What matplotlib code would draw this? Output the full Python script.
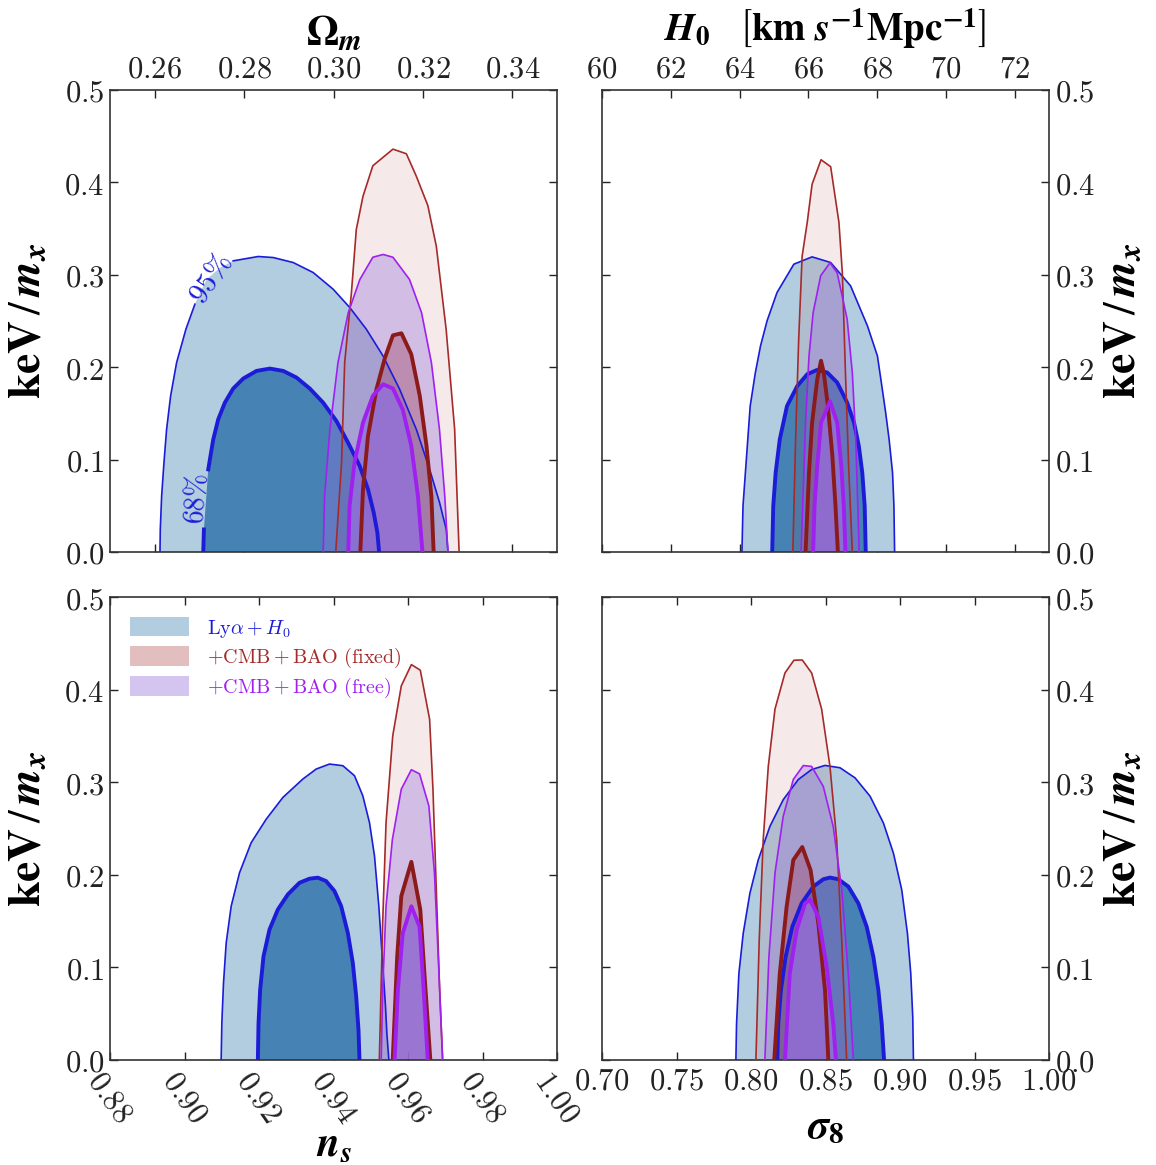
import numpy as np
import matplotlib
matplotlib.use("Agg")
import matplotlib.pyplot as plt
from matplotlib.patches import Patch

plt.rcParams['mathtext.fontset'] = 'cm'
plt.rcParams['font.family'] = ['DejaVu Serif']

# ---- contour outlines: x, y (keV/m_x) ----
# top left: Omega_m
om_lya95_x = [0.26118, 0.26125, 0.26155, 0.26207, 0.26266, 0.26356, 0.26490, 0.26698, 0.26899, 0.2716, 0.2746,
              0.27756, 0.28315, 0.28650, 0.29097, 0.29544, 0.29993, 0.30363, 0.30735, 0.31108, 0.31480, 0.31853,
              0.32151, 0.32374, 0.32523, 0.32561]
om_lya95_y = [0.0, 0.0244, 0.0605, 0.0966, 0.1327, 0.1689, 0.2050, 0.2411, 0.2682, 0.2950, 0.3075,
              0.3151, 0.3198, 0.3187, 0.3133, 0.3025, 0.2844, 0.2646, 0.2411, 0.2122, 0.1761, 0.1327,
              0.0894, 0.0533, 0.0244, 0.0]
om_lya68_x = [0.27086, 0.27101, 0.27198, 0.27235, 0.27310, 0.27421, 0.27570, 0.27756, 0.27980, 0.28278, 0.28576,
              0.28874, 0.29172, 0.29470, 0.29767, 0.30065, 0.30326, 0.30587, 0.30773, 0.30900, 0.30982, 0.31020]
om_lya68_y = [0.0, 0.0244, 0.0894, 0.1003, 0.1219, 0.1436, 0.1617, 0.1769, 0.1877, 0.1960, 0.1985,
              0.1960, 0.1888, 0.1769, 0.1617, 0.1418, 0.1183, 0.0930, 0.0677, 0.0425, 0.0208, 0.0]
om_fix95_x = [0.3005, 0.3018, 0.3025, 0.3040, 0.3051, 0.3066, 0.3088, 0.3133, 0.3163, 0.3185, 0.3211, 0.3230, 0.3252, 0.3271, 0.3281]
om_fix95_y = [0.0, 0.097, 0.205, 0.280, 0.349, 0.385, 0.418, 0.436, 0.431, 0.407, 0.375, 0.331, 0.241, 0.133, 0.0]
om_fix68_x = [0.3060, 0.3066, 0.3077, 0.3096, 0.3115, 0.3133, 0.3152, 0.3174, 0.3193, 0.3208, 0.3219, 0.3224]
om_fix68_y = [0.0, 0.068, 0.125, 0.176, 0.210, 0.2345, 0.2367, 0.214, 0.169, 0.115, 0.060, 0.0]
om_free95_x = [0.2977, 0.2980, 0.2992, 0.3010, 0.3033, 0.3059, 0.3088, 0.3111, 0.3133, 0.3170, 0.3197, 0.3219, 0.3237, 0.3249, 0.3256]
om_free95_y = [0.0, 0.060, 0.133, 0.205, 0.259, 0.295, 0.319, 0.322, 0.319, 0.295, 0.259, 0.205, 0.133, 0.060, 0.0]
om_free68_x = [0.3033, 0.3036, 0.3047, 0.3066, 0.3088, 0.3111, 0.3133, 0.3155, 0.3174, 0.3189, 0.3199]
om_free68_y = [0.0, 0.050, 0.097, 0.140, 0.169, 0.1815, 0.177, 0.154, 0.115, 0.060, 0.0]

# top right: H0
h0_lya95_x = [64.07, 64.10, 64.17, 64.31, 64.46, 64.61, 64.80, 65.09, 65.58, 66.11, 66.65, 67.23, 67.72, 68.01,
              68.11, 68.25, 68.35, 68.45, 68.49, 68.51]
h0_lya95_y = [0.0, 0.0496, 0.0858, 0.1580, 0.1941, 0.2230, 0.2501, 0.2808, 0.3115, 0.3194, 0.3133, 0.2880, 0.2447, 0.2122,
              0.1869, 0.1508, 0.1219, 0.0858, 0.0496, 0.0]
h0_lya68_x = [64.95, 64.98, 65.05, 65.17, 65.38, 65.68, 65.97, 66.26, 66.55, 66.84, 67.13, 67.33, 67.47, 67.57, 67.64, 67.67]
h0_lya68_y = [0.0, 0.0496, 0.0858, 0.1219, 0.1580, 0.1797, 0.1924, 0.1971, 0.1942, 0.1834, 0.1617, 0.1400, 0.1147, 0.0858, 0.0496, 0.0]
h0_fix95_x = [65.55, 65.63, 65.72, 65.82, 65.97, 66.11, 66.37, 66.65, 66.89, 66.99, 67.08, 67.18, 67.28]
h0_fix95_y = [0.0, 0.122, 0.230, 0.320, 0.357, 0.398, 0.4245, 0.417, 0.357, 0.302, 0.194, 0.086, 0.0]
h0_fix68_x = [65.92, 66.02, 66.11, 66.26, 66.37, 66.45, 66.57, 66.70, 66.79, 66.86]
h0_fix68_y = [0.0, 0.086, 0.140, 0.187, 0.207, 0.194, 0.158, 0.104, 0.050, 0.0]
h0_free95_x = [65.79, 65.92, 66.02, 66.14, 66.36, 66.63, 66.84, 67.13, 67.28, 67.38, 67.48]
h0_free95_y = [0.0, 0.140, 0.212, 0.259, 0.299, 0.313, 0.302, 0.252, 0.194, 0.122, 0.0]
h0_free68_x = [66.14, 66.18, 66.26, 66.37, 66.63, 66.84, 66.96, 67.03, 67.08]
h0_free68_y = [0.0, 0.050, 0.093, 0.140, 0.163, 0.140, 0.093, 0.050, 0.0]

# bottom left: n_s
ns_lya95_x = [0.90984, 0.91002, 0.91047, 0.91119, 0.91253, 0.91477, 0.91790, 0.92192, 0.92640, 0.93177, 0.93535,
              0.93893, 0.94251, 0.94564, 0.94787, 0.94966, 0.95101, 0.95217, 0.95307, 0.95396, 0.95432, 0.95486]
ns_lya95_y = [0.0, 0.0397, 0.0831, 0.1264, 0.1661, 0.2022, 0.2347, 0.2600, 0.2835, 0.3034, 0.3142,
              0.3196, 0.3178, 0.3070, 0.2853, 0.2564, 0.2203, 0.1661, 0.1120, 0.0578, 0.0289, 0.0]
ns_lya68_x = [0.91969, 0.91987, 0.92031, 0.92121, 0.92282, 0.92506, 0.92774, 0.93087, 0.93356, 0.93579,
              0.93803, 0.94027, 0.94206, 0.94385, 0.94519, 0.94609, 0.94671, 0.94698]
ns_lya68_y = [0.0, 0.0397, 0.0759, 0.1120, 0.1409, 0.1625, 0.1788, 0.1914, 0.1958, 0.1969,
              0.1932, 0.1824, 0.1661, 0.1372, 0.1047, 0.0686, 0.0325, 0.0]
ns_fix95_x = [0.9523, 0.9532, 0.9541, 0.9559, 0.9582, 0.9609, 0.9633, 0.9658, 0.9667, 0.9676, 0.9685, 0.9693]
ns_fix95_y = [0.0, 0.148, 0.256, 0.350, 0.404, 0.427, 0.421, 0.368, 0.2925, 0.184, 0.076, 0.0]
ns_fix68_x = [0.9559, 0.9571, 0.9582, 0.9609, 0.9633, 0.9644, 0.9660]
ns_fix68_y = [0.0, 0.112, 0.177, 0.214, 0.1625, 0.094, 0.0]
ns_free95_x = [0.9528, 0.9532, 0.9541, 0.9558, 0.9582, 0.9609, 0.9631, 0.9656, 0.9671, 0.9683, 0.9693]
ns_free95_y = [0.0, 0.076, 0.166, 0.238, 0.2925, 0.3135, 0.309, 0.2745, 0.202, 0.094, 0.0]
ns_free68_x = [0.9564, 0.9573, 0.9586, 0.9609, 0.9631, 0.9642, 0.9653]
ns_free68_y = [0.0, 0.076, 0.137, 0.166, 0.144, 0.076, 0.0]

# bottom right: sigma_8
s8_lya95_x = [0.78985, 0.79030, 0.79187, 0.79478, 0.79926, 0.80486, 0.81270, 0.82166, 0.83174, 0.84070, 0.84966,
              0.85974, 0.86982, 0.87990, 0.88886, 0.89558, 0.90118, 0.90499, 0.90723, 0.90857, 0.90902]
s8_lya95_y = [0.0, 0.0392, 0.0934, 0.1368, 0.1801, 0.2161, 0.2523, 0.2812, 0.3029, 0.3137, 0.3181,
              0.3156, 0.3047, 0.2849, 0.2560, 0.2234, 0.1837, 0.1368, 0.0934, 0.0464, 0.0]
s8_lya68_x = [0.81763, 0.81830, 0.82009, 0.82323, 0.82771, 0.83398, 0.84182, 0.84854, 0.85302,
              0.85862, 0.86534, 0.87206, 0.87766, 0.88214, 0.88550, 0.88774, 0.88931]
s8_lya68_y = [0.0, 0.0392, 0.0753, 0.1114, 0.1439, 0.1692, 0.1873, 0.1952, 0.1970,
              0.1952, 0.1873, 0.1692, 0.1439, 0.1114, 0.0753, 0.0392, 0.0]
s8_fix95_x = [0.8033, 0.8055, 0.8082, 0.8116, 0.8161, 0.8228, 0.8288, 0.8344, 0.8407, 0.8474, 0.8530, 0.8575, 0.8609, 0.8642]
s8_fix95_y = [0.0, 0.129, 0.238, 0.317, 0.379, 0.418, 0.4317, 0.432, 0.418, 0.379, 0.317, 0.238, 0.129, 0.0]
s8_fix68_x = [0.8156, 0.8193, 0.8239, 0.8284, 0.8344, 0.8400, 0.8452, 0.8497, 0.8519]
s8_fix68_y = [0.0, 0.093, 0.1655, 0.216, 0.230, 0.205, 0.1475, 0.075, 0.0]
s8_free95_x = [0.8093, 0.8120, 0.8161, 0.8216, 0.8284, 0.8351, 0.8407, 0.8485, 0.8552, 0.8609, 0.8653, 0.8687]
s8_free95_y = [0.0, 0.111, 0.202, 0.263, 0.303, 0.318, 0.317, 0.2955, 0.252, 0.184, 0.093, 0.0]
s8_free68_x = [0.8228, 0.8260, 0.8306, 0.8362, 0.8396, 0.8452, 0.8508, 0.8552, 0.8570]
s8_free68_y = [0.0, 0.093, 0.140, 0.169, 0.173, 0.1545, 0.1005, 0.039, 0.0]

# axes ranges and ticks
om_ticks = [0.26, 0.28, 0.30, 0.32, 0.34]
h0_ticks = [60, 62, 64, 66, 68, 70, 72]
ns_ticks = [0.88, 0.90, 0.92, 0.94, 0.96, 0.98, 1.00]
s8_ticks = [0.70, 0.75, 0.80, 0.85, 0.90, 0.95, 1.00]
y_ticks = [0.0, 0.1, 0.2, 0.3, 0.4, 0.5]

legend_labels = [r'$\mathrm{Ly}\alpha + H_0$',
                 r'$+\mathrm{CMB} + \mathrm{BAO\ (fixed)}$',
                 r'$+\mathrm{CMB} + \mathrm{BAO\ (free)}$']

# styles
blue_edge = '#1c1cd8'
red_edge = '#a52a2a'
red_edge68 = '#8b1a1a'
pur_edge = '#a020f0'


def contour(ax, xs, ys, face, alpha, edge, lw, gap=None):
    ax.fill(xs, ys, facecolor=face, alpha=alpha, edgecolor='none', zorder=2)
    if gap is None:
        ax.plot(xs, ys, color=edge, lw=lw, zorder=3)
    else:
        a, b = gap
        ax.plot(xs[:a + 1], ys[:a + 1], color=edge, lw=lw, zorder=3)
        ax.plot(xs[b:], ys[b:], color=edge, lw=lw, zorder=3)


def panel(ax, c, gaps=(None, None)):
    (l95x, l95y), (l68x, l68y), (f95x, f95y), (f68x, f68y), (p95x, p95y), (p68x, p68y) = c
    contour(ax, l95x, l95y, '#b3cde0', 1.0, blue_edge, 1.2, gaps[0])
    contour(ax, l68x, l68y, '#4682b4', 1.0, blue_edge, 2.8, gaps[1])
    contour(ax, f95x, f95y, '#a52a2a', 0.1, red_edge, 1.2)
    contour(ax, f68x, f68y, '#a52a2a', 0.4, red_edge68, 2.8)
    contour(ax, p95x, p95y, '#9370db', 0.35, pur_edge, 1.2)
    contour(ax, p68x, p68y, '#9370db', 0.8, pur_edge, 2.8)


fig = plt.figure(figsize=(11.56, 11.65), dpi=100)
W, H = 1156, 1165
ax_tl = fig.add_axes([110 / W, 1 - 552 / H, 447 / W, 462 / H])
ax_tr = fig.add_axes([602 / W, 1 - 552 / H, 447 / W, 462 / H])
ax_bl = fig.add_axes([110 / W, 1 - 1060 / H, 447 / W, 463 / H])
ax_br = fig.add_axes([602 / W, 1 - 1060 / H, 447 / W, 463 / H])

panel(ax_tl, [(om_lya95_x, om_lya95_y), (om_lya68_x, om_lya68_y), (om_fix95_x, om_fix95_y),
              (om_fix68_x, om_fix68_y), (om_free95_x, om_free95_y), (om_free68_x, om_free68_y)],
      gaps=((8, 11), (1, 2)))
panel(ax_tr, [(h0_lya95_x, h0_lya95_y), (h0_lya68_x, h0_lya68_y), (h0_fix95_x, h0_fix95_y),
              (h0_fix68_x, h0_fix68_y), (h0_free95_x, h0_free95_y), (h0_free68_x, h0_free68_y)])
panel(ax_bl, [(ns_lya95_x, ns_lya95_y), (ns_lya68_x, ns_lya68_y), (ns_fix95_x, ns_fix95_y),
              (ns_fix68_x, ns_fix68_y), (ns_free95_x, ns_free95_y), (ns_free68_x, ns_free68_y)])
panel(ax_br, [(s8_lya95_x, s8_lya95_y), (s8_lya68_x, s8_lya68_y), (s8_fix95_x, s8_fix95_y),
              (s8_fix68_x, s8_fix68_y), (s8_free95_x, s8_free95_y), (s8_free68_x, s8_free68_y)])

ax_tl.text(0.2726, 0.295, r'$95\%$', color=blue_edge, fontsize=21, rotation=56,
           ha='center', va='center', zorder=4)
ax_tl.text(0.2695, 0.0575, r'$68\%$', color=blue_edge, fontsize=20, rotation=86,
           ha='center', va='center', zorder=4)

ax_tl.set_xlim(0.25, 0.35)
ax_tr.set_xlim(60, 73)
ax_bl.set_xlim(0.88, 1.00)
ax_br.set_xlim(0.70, 1.00)

tick_fs = 22
bold_math = 'stix'
ylab = r'$\mathbf{keV}\,/\,\mathbfit{m_x}$'
for ax in (ax_tl, ax_tr, ax_bl, ax_br):
    ax.set_ylim(0, 0.5)
    ax.set_yticks(y_ticks)
    ax.set_yticklabels(['$%.1f$' % t for t in y_ticks])
    ax.tick_params(direction='in', length=6, width=1, top=True, bottom=True, left=True,
                   right=True, labelsize=tick_fs, pad=4, colors='#222222')
    for s in ax.spines.values():
        s.set_linewidth(1.2)
        s.set_color('#333333')
    ax.set_ylabel(ylab, fontsize=33, math_fontfamily=bold_math)

ax_tl.yaxis.set_label_coords(-0.135, 0.5)
ax_bl.yaxis.set_label_coords(-0.135, 0.5)
for ax in (ax_tr, ax_br):
    ax.tick_params(labelleft=False, labelright=True)
    ax.yaxis.set_label_position('right')
    ax.yaxis.set_label_coords(1.112, 0.5)

ax_tl.set_xticks(om_ticks)
ax_tl.set_xticklabels(['$%.2f$' % t for t in om_ticks])
ax_tr.set_xticks(h0_ticks)
ax_tr.set_xticklabels(['$%d$' % t for t in h0_ticks])
for ax in (ax_tl, ax_tr):
    ax.tick_params(labeltop=True, labelbottom=False)
    ax.xaxis.set_label_position('top')
ax_tl.set_xlabel(r'$\mathbf{\Omega}_\mathbfit{m}$', fontsize=30, labelpad=6,
                 math_fontfamily=bold_math)
ax_tr.set_xlabel(r'$\mathbfit{H}_\mathbf{0}\ \ \ \left[\mathbf{km}\ \mathbfit{s}^{\mathbf{-1}}\mathbf{Mpc}^{\mathbf{-1}}\right]$',
                 fontsize=28, labelpad=9, math_fontfamily=bold_math)

ax_bl.set_xticks(ns_ticks)
ax_bl.set_xticklabels(['$%.2f$' % t for t in ns_ticks], rotation=-55, ha='center')
ax_br.set_xticks(s8_ticks)
ax_br.set_xticklabels(['$%.2f$' % t for t in s8_ticks])
ax_bl.set_xlabel(r'$\mathbfit{n_s}$', fontsize=30, math_fontfamily=bold_math)
ax_bl.xaxis.set_label_coords(0.5, -0.135)
ax_br.set_xlabel(r'$\mathbfit{\sigma}_\mathbf{8}$', fontsize=30, math_fontfamily=bold_math)
ax_br.xaxis.set_label_coords(0.5, -0.095)

handles = [Patch(facecolor='#b3cde0', edgecolor='none'),
           Patch(facecolor='#a52a2a', alpha=0.3, edgecolor='none'),
           Patch(facecolor='#9370db', alpha=0.4, edgecolor='none')]
leg = ax_bl.legend(handles, legend_labels, loc='upper left', frameon=False, fontsize=14.5,
                   handlelength=2.9, handleheight=1.1, labelspacing=0.3, handletextpad=0.9,
                   borderaxespad=0.6)
for t, c in zip(leg.get_texts(), [blue_edge, red_edge, pur_edge]):
    t.set_color(c)

fig.savefig('out.png', dpi=100)
